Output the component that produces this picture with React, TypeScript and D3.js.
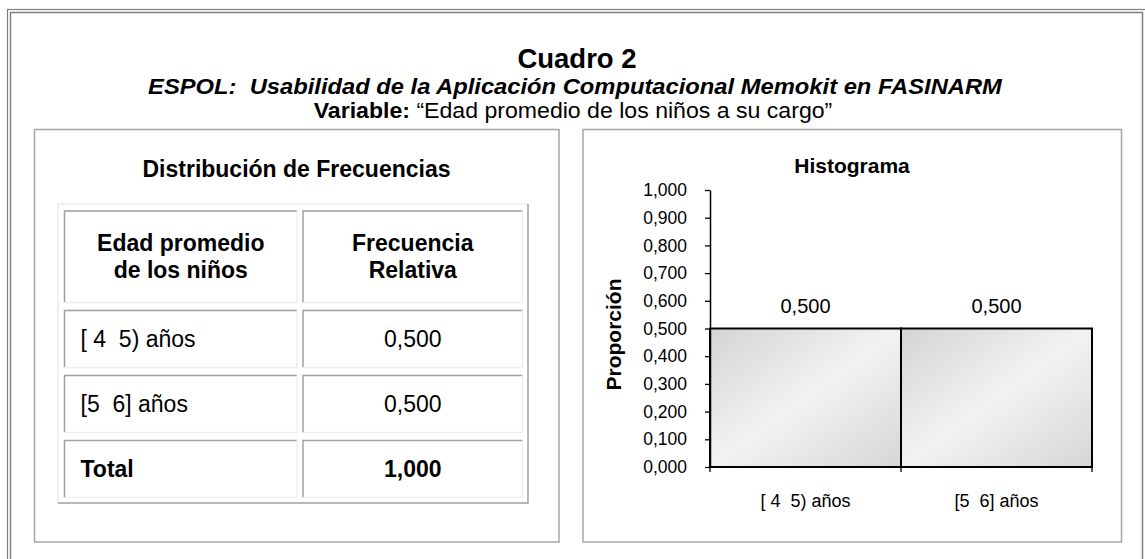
import * as d3 from 'd3';
import React, {useEffect, useRef} from 'react';

const categories = ['[ 4  5) años', '[5  6] años'];
const relFreq = [0.5, 0.5];
const totalFreq = 1.0;
const headerCol1 = ['Edad promedio', 'de los niños'];
const headerCol2 = ['Frecuencia', 'Relativa'];
const yTickValues = [0, 0.1, 0.2, 0.3, 0.4, 0.5, 0.6, 0.7, 0.8, 0.9, 1.0];

const W = 1145;
const H = 559;
const FONT = '"Liberation Sans", Arial, sans-serif';

const locale = d3.formatLocale({decimal: ',', thousands: '.', grouping: [3], currency: ['$', '']});
const fmt = locale.format('.3f');

// grafico
const x = d3.scaleBand<string>().domain(categories).range([710, 1092]).paddingInner(0).paddingOuter(0);
const y = d3.scaleLinear().domain([0, 1]).range([467, 190]);

// tabla
const col1 = {x: 64.5, w: 232.5};
const col2 = {x: 303, w: 219.5};
const rowHeights = [91.5, 57, 57, 57];
const rowGap = 8;
const rowTops: number[] = [];
rowHeights.reduce((acc, h) => {
  rowTops.push(acc);
  return acc + h + rowGap;
}, 211);

function Cell({cx, cy, w, h}: {cx: number; cy: number; w: number; h: number}) {
  return (
    <g>
      <path d={`M${cx},${cy + h}V${cy}H${cx + w}`} fill="none" stroke="#a0a0a0" strokeWidth={1.5} />
      <path d={`M${cx + w},${cy}V${cy + h}H${cx}`} fill="none" stroke="#efefef" strokeWidth={1.5} />
    </g>
  );
}

export default function App() {
  const yAxisRef = useRef<SVGGElement>(null);

  useEffect(() => {
    const g = d3.select(yAxisRef.current);
    g.selectAll('*').remove();
    g.call(
      d3.axisLeft(y).tickValues(yTickValues).tickSize(5).tickSizeOuter(0).tickPadding(18).tickFormat((d) => fmt(d as number))
    );
    g.select('.domain').attr('stroke', '#000').attr('stroke-width', 1.5);
    g.selectAll('.tick line').attr('stroke', '#000').attr('stroke-width', 1.3);
    g.selectAll('.tick text').attr('font-size', 17.5).attr('font-family', FONT).attr('fill', '#000');
  }, []);

  const rows = [
    {label: categories[0], value: fmt(relFreq[0]), bold: false},
    {label: categories[1], value: fmt(relFreq[1]), bold: false},
    {label: 'Total', value: fmt(totalFreq), bold: true},
  ];

  return (
    <svg width={W} height={H} style={{position: 'absolute', left: 0, top: 0, background: '#fff'}} fontFamily={FONT}>
      <defs>
        <linearGradient id="barFill" x1="0" y1="0" x2="1" y2="1">
          <stop offset="0" stopColor="#d4d4d4" />
          <stop offset="0.5" stopColor="#f2f2f2" />
          <stop offset="1" stopColor="#d6d6d6" />
        </linearGradient>
      </defs>

      {/* marco doble */}
      <rect x={7.5} y={9.5} width={1145} height={600} fill="none" stroke="#808080" strokeWidth={1.2} />
      <rect x={10.5} y={12.5} width={1132} height={600} fill="none" stroke="#808080" strokeWidth={1.5} />

      {/* titulos */}
      <text x={577} y={68} textAnchor="middle" fontSize={27.5} fontWeight="bold">Cuadro 2</text>
      <text transform="translate(575,93.5) scale(1.08,1)" textAnchor="middle" fontSize={22} fontWeight="bold" fontStyle="italic" xmlSpace="preserve">
        ESPOL:  Usabilidad de la Aplicación Computacional Memokit en FASINARM
      </text>
      <text transform="translate(573,117.5) scale(1.05,1)" textAnchor="middle" fontSize={22} xmlSpace="preserve">
        <tspan fontWeight="bold">Variable:</tspan> “Edad promedio de los niños a su cargo”
      </text>

      {/* paneles */}
      <rect x={34.5} y={129.5} width={524.5} height={412.5} fill="none" stroke="#a6a6a6" strokeWidth={1.5} />
      <rect x={583} y={129.5} width={538.5} height={412.5} fill="none" stroke="#a6a6a6" strokeWidth={1.5} />

      {/* tabla de frecuencias */}
      <text x={296.5} y={177} textAnchor="middle" fontSize={23} fontWeight="bold">Distribución de Frecuencias</text>
      <path d="M58,503V204H528" fill="none" stroke="#ececec" strokeWidth={1.5} />
      <path d="M528,204V503H58" fill="none" stroke="#a0a0a0" strokeWidth={1.5} />
      {rowTops.map((top, i) => (
        <g key={i}>
          <Cell cx={col1.x} cy={top} w={col1.w} h={rowHeights[i]} />
          <Cell cx={col2.x} cy={top} w={col2.w} h={rowHeights[i]} />
        </g>
      ))}
      {headerCol1.map((t, i) => (
        <text key={'h1' + i} x={col1.x + col1.w / 2} y={rowTops[0] + rowHeights[0] / 2 - 5.5 + i * 26.7} textAnchor="middle" fontSize={23} fontWeight="bold">{t}</text>
      ))}
      {headerCol2.map((t, i) => (
        <text key={'h2' + i} x={col2.x + col2.w / 2} y={rowTops[0] + rowHeights[0] / 2 - 5.5 + i * 26.7} textAnchor="middle" fontSize={23} fontWeight="bold">{t}</text>
      ))}
      {rows.map((r, i) => {
        const top = rowTops[i + 1];
        const base = top + rowHeights[i + 1] / 2 + 7.5;
        return (
          <g key={'r' + i} fontWeight={r.bold ? 'bold' : 'normal'} fontSize={23}>
            <text x={80.5} y={base} xmlSpace="preserve">{r.label}</text>
            <text x={col2.x + col2.w / 2} y={base} textAnchor="middle">{r.value}</text>
          </g>
        );
      })}

      {/* histograma */}
      <text x={852} y={173} textAnchor="middle" fontSize={21} fontWeight="bold">Histograma</text>
      <text transform={`translate(621,${(y(0) + y(1)) / 2 + 6}) rotate(-90)`} textAnchor="middle" fontSize={21} fontWeight="bold">Proporción</text>
      {categories.map((c, i) => (
        <g key={c}>
          <rect x={x(c)} y={y(relFreq[i])} width={x.bandwidth()} height={y(0) - y(relFreq[i])} fill="url(#barFill)" stroke="#000" strokeWidth={2} />
          <text x={(x(c) as number) + x.bandwidth() / 2} y={y(relFreq[i]) - 15.5} textAnchor="middle" fontSize={20}>{fmt(relFreq[i])}</text>
          <text x={(x(c) as number) + x.bandwidth() / 2} y={507} textAnchor="middle" fontSize={18} xmlSpace="preserve">{c}</text>
        </g>
      ))}
      <line x1={x.range()[0]} x2={x.range()[1]} y1={y(0)} y2={y(0)} stroke="#000" strokeWidth={2} />
      {[...categories.map((c) => x(c) as number), x.range()[1]].map((px, i) => (
        <line key={'xt' + i} x1={px} x2={px} y1={y(0)} y2={y(0) + 5} stroke="#000" strokeWidth={1.3} />
      ))}
      <g ref={yAxisRef} transform={`translate(${x.range()[0]},0)`} />
    </svg>
  );
}
